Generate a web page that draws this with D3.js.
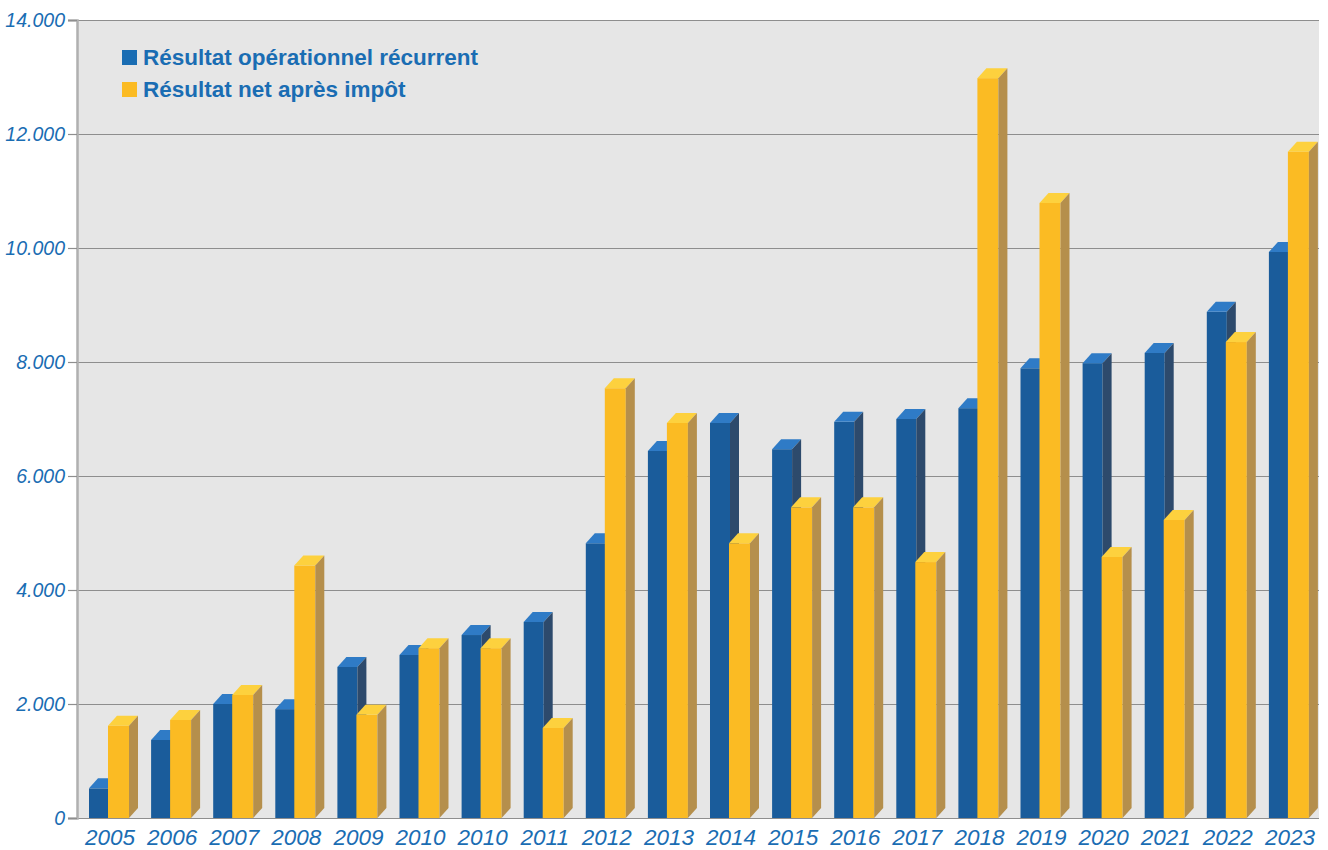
<html>
<head>
<meta charset="utf-8">
<script src="https://d3js.org/d3.v7.min.js"></script>
<style>
  body { margin: 0; background: #fff; }
  text { font-family: "Liberation Sans", Arial, sans-serif; }
</style>
</head>
<body>
<div id="chart"></div>
<script>

// data
var years = ["2005","2006","2007","2008","2009","2010","2010","2011","2012","2013",
             "2014","2015","2016","2017","2018","2019","2020","2021","2022","2023"];
var recurrent = [520, 1370, 2000, 1910, 2650, 2860, 3210, 3440, 4820, 6440,
                 6930, 6470, 6950, 7000, 7190, 7890, 7980, 8160, 8880, 9930];
var netResult = [1620, 1720, 2160, 4430, 1810, 2980, 2980, 1580, 7540, 6930,
                 4820, 5450, 5450, 4490, 12980, 10790, 4580, 5230, 8350, 11690];
var yTicks = [0, 2000, 4000, 6000, 8000, 10000, 12000, 14000];
var seriesNames = ["Résultat opérationnel récurrent", "Résultat net après impôt"];

var W = 1328, H = 850;
var plot = {left: 77, right: 1319, top: 20, bottom: 818};

var svg = d3.select("#chart").append("svg")
  .attr("width", W)
  .attr("height", H);

var x = d3.scaleBand()
  .domain(d3.range(years.length))
  .range([plot.left, plot.right]);

var y = d3.scaleLinear()
  .domain([0, 14000])
  .range([plot.bottom, plot.top]);

var loc = d3.formatLocale({decimal: ",", thousands: ".", grouping: [3], currency: ["", "€"]});
var fmt = loc.format(",d");

// plot background
svg.append("rect")
  .attr("x", plot.left).attr("y", plot.top)
  .attr("width", plot.right - plot.left).attr("height", plot.bottom - plot.top)
  .attr("fill", "#e6e6e6");

// grid lines
svg.append("g").selectAll("line")
  .data(yTicks)
  .enter().append("line")
    .attr("x1", plot.left).attr("x2", plot.right)
    .attr("y1", function(d) { return y(d) + 0.5; })
    .attr("y2", function(d) { return y(d) + 0.5; })
    .attr("stroke", "#8e8e8e")
    .attr("stroke-width", 1.2);

// y axis
var yAxis = svg.append("g")
  .attr("transform", "translate(" + plot.left + ",0)")
  .call(d3.axisLeft(y).tickValues(yTicks).tickFormat(fmt).tickSize(9).tickPadding(3));
yAxis.select(".domain").attr("stroke", "#b0b0b0").attr("stroke-width", 2.5);
yAxis.selectAll(".tick line").attr("stroke", "#8e8e8e").attr("stroke-width", 1.2);
yAxis.selectAll(".tick text")
  .attr("fill", "#1a6db3")
  .style("font-size", "19.5px")
  .style("font-style", "italic")
  .style("font-family", "'Liberation Sans', Arial, sans-serif");

// 3D bars
var depthX = 9, depthY = 10;
var colors = [
  {front: "#1a5c9b", top: "#2f7bc6", side: "#2d4a6c"},
  {front: "#fbbb23", top: "#fdd13e", side: "#b58f4c"}
];

function bar3d(g, x0, w, v, c) {
  var yt = y(v);
  var yb = plot.bottom;
  g.append("rect")
    .attr("x", x0).attr("y", yt)
    .attr("width", w).attr("height", yb - yt)
    .attr("fill", c.front);
  g.append("polygon")
    .attr("points", [[x0, yt], [x0 + depthX, yt - depthY], [x0 + w + depthX, yt - depthY], [x0 + w, yt]].join(" "))
    .attr("fill", c.top);
  g.append("polygon")
    .attr("points", [[x0 + w, yt], [x0 + w + depthX, yt - depthY], [x0 + w + depthX, yb - depthY], [x0 + w, yb]].join(" "))
    .attr("fill", c.side);
}

var bars = svg.append("g");
years.forEach(function(yr, i) {
  var bx = x(i);
  var g = bars.append("g");
  bar3d(g, bx + 12, 20, recurrent[i], colors[0]);
  bar3d(g, bx + 31, 21, netResult[i], colors[1]);
});

// x labels
svg.append("g").selectAll("text")
  .data(years)
  .enter().append("text")
    .attr("x", function(d, i) { return x(i) + x.bandwidth() / 2 + 2; })
    .attr("y", 845)
    .attr("text-anchor", "middle")
    .attr("fill", "#1a6db3")
    .style("font-size", "22.5px")
    .style("font-style", "italic")
    .text(function(d) { return d; });

// legend
var legend = svg.append("g");
seriesNames.forEach(function(name, i) {
  legend.append("rect")
    .attr("x", 122).attr("y", 50 + i * 32)
    .attr("width", 15).attr("height", 15)
    .attr("fill", i == 0 ? "#1a6db3" : "#fbbb23");
  legend.append("text")
    .attr("x", 143).attr("y", 65 + i * 32)
    .attr("fill", "#1a6db3")
    .style("font-size", "22.5px")
    .style("font-weight", "bold")
    .text(name);
});

</script>
</body>
</html>
